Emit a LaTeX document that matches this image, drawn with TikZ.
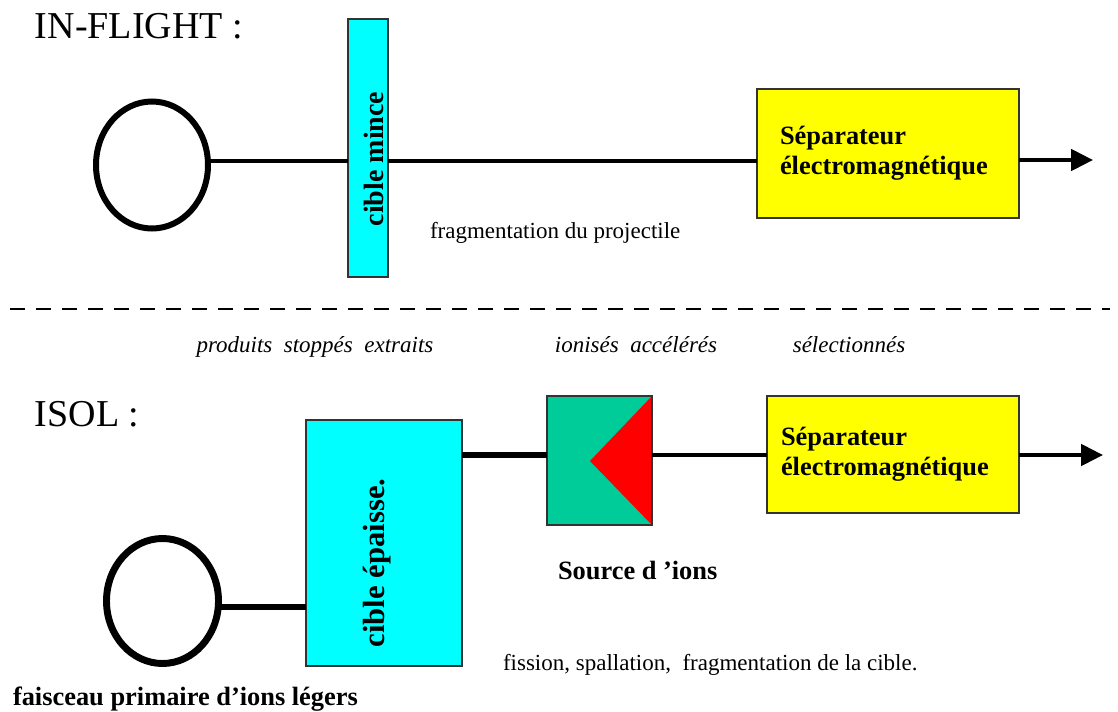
\documentclass[tikz,border=0pt]{standalone}
\usepackage{fontspec}
\setmainfont{Liberation Serif}
\usetikzlibrary{arrows.meta,shapes.geometric}
\definecolor{cibleblue}{HTML}{00FFFF}
\definecolor{sepyellow}{HTML}{FFFF00}
\definecolor{srcgreen}{HTML}{00CC99}
\definecolor{srcred}{HTML}{FF0000}
\definecolor{edgegray}{HTML}{333333}
\newcommand{\titlefont}{\fontsize{28.5}{30}\selectfont}
\newcommand{\boldlab}{\bfseries\fontsize{19.8}{22.5}\selectfont}
\newcommand{\reglab}{\fontsize{17.25}{20}\selectfont}
\tikzset{
  txt/.style={inner sep=0pt, outer sep=0pt},
  boxshape/.style={rectangle, draw=edgegray, line width=0.8pt, inner sep=0pt, outer sep=0pt},
  cible/.style={boxshape, fill=cibleblue},
  sepbox/.style={boxshape, fill=sepyellow, align=left, font=\boldlab, inner ysep=0pt},
  ring/.style={ellipse, draw=black, inner sep=0pt, outer sep=0pt},
  beamthin/.style={draw=black, line width=3pt},
  beamthick/.style={draw=black, line width=4.8pt},
  beamarrow/.style={beamthin, -{Triangle[length=16.5pt, width=16pt]}},
  sepline/.style={draw=black, line width=1.5pt, dash pattern=on 11.25pt off 8.25pt},
}
\begin{document}
\begin{tikzpicture}[x=0.75pt, y=-0.75pt]
\useasboundingbox[fill=white] (0,0) rectangle (1118,711);

% ---------------- IN-FLIGHT ----------------
\node[txt, anchor=base west, font=\titlefont] (t1) at (35,38) {IN-FLIGHT :};

\node[ring, line width=4.5pt, minimum width=84pt, minimum height=95.25pt] (e1) at (152,165) {};
\node[cible, minimum width=30pt, minimum height=193.5pt] (cm) at (368,148) {};
\node[txt, rotate=90, font=\bfseries\fontsize{21}{21}\selectfont] (cmt) at (374,159) {cible mince};
\node[sepbox, minimum width=196.5pt, minimum height=96.75pt, inner xsep=17.25pt, text width=162pt] (s1) at (888,153.5) {Séparateur\\électromagnétique};
\coordinate (lv1) at (0,161);
\coordinate (tip1) at (1093,160);

\draw[beamthin] (e1.4) -- (e1.4 -| cm.west);
\draw[beamthin] (cm.east |- lv1) -- (s1.west |- lv1);
\draw[beamarrow] (s1.east |- tip1) -- (tip1);

\node[txt, anchor=base west, font=\reglab] (frag) at (430,238) {fragmentation du projectile};

% ---------------- separator ----------------
\coordinate (dl) at (10,309);
\coordinate (dr) at (1110,309);
\draw[sepline] (dl) -- (dr);

\node[txt, anchor=base, font=\itshape\reglab] (i1) at (315,352) {produits\ \ stoppés\ \ extraits};
\node[txt, anchor=base, font=\itshape\reglab] (i2) at (636,352) {ionisés\ \ accélérés};
\node[txt, anchor=base, font=\itshape\reglab] (i3) at (849,352) {sélectionnés};

% ---------------- ISOL ----------------
\node[txt, anchor=base west, font=\titlefont] (t2) at (35,426) {ISOL :};

\node[ring, line width=5.2pt, minimum width=84pt, minimum height=93.75pt] (e2) at (162.5,601) {};
\node[cible, minimum width=117pt, minimum height=184.5pt] (ce) at (384,543) {};
\node[txt, rotate=90, font=\bfseries\fontsize{23}{23}\selectfont] (cet) at (377,563) {cible épaisse.};
\node[boxshape, fill=srcgreen, minimum width=78.75pt, minimum height=96.75pt] (src) at (599.5,460.5) {};
\fill[srcred] (src.north east) -- (590,461) -- (src.south east) -- cycle;
\draw[edgegray, line width=0.8pt] (src.north west) rectangle (src.south east);
\node[sepbox, minimum width=189pt, minimum height=87.75pt, inner xsep=10.5pt, text width=168pt] (s2) at (893,454.5) {Séparateur\\électromagnétique};
\coordinate (lv2) at (0,455);
\coordinate (tip2) at (1103,455);

\draw[beamthick] (e2.-6) -- (e2.-6 -| ce.west);
\draw[beamthick] (ce.east |- lv2) -- (src.west |- lv2);
\draw[beamthin] (src.east |- lv2) -- (s2.west |- lv2);
\draw[beamarrow] (s2.east |- tip2) -- (tip2);

\node[txt, anchor=base west, font=\boldlab] (srclab) at (558,579) {Source d ’ions};
\node[txt, anchor=base west, font=\reglab] (fiss) at (503,670) {fission, spallation,\ \ fragmentation de la cible.};
\node[txt, anchor=base west, font=\boldlab] (fais) at (13,705) {faisceau primaire d’ions légers};
\end{tikzpicture}
\end{document}
